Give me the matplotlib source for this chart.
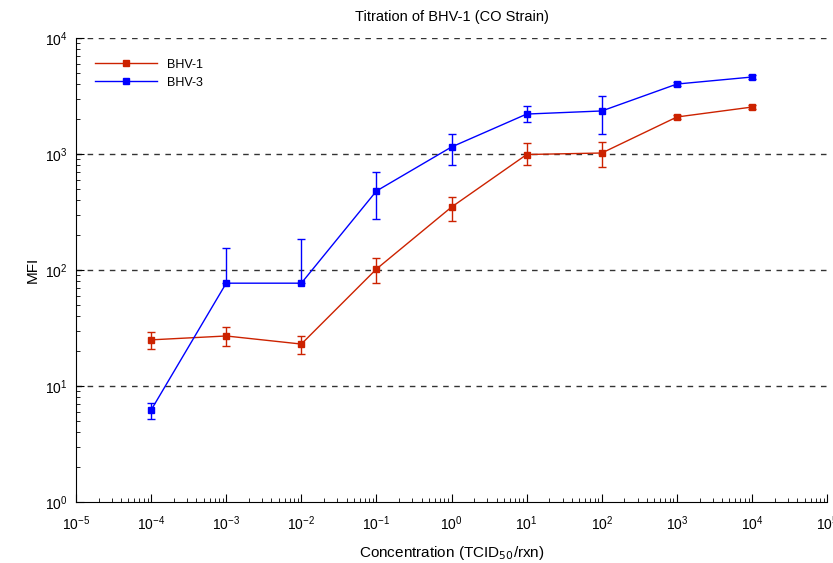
import numpy as np
import matplotlib.pyplot as plt
from matplotlib.ticker import LogLocator, NullFormatter

plt.rcParams['font.family'] = ['Liberation Sans', 'DejaVu Sans']

# Data
conc = [1e-4, 1e-3, 1e-2, 1e-1, 1e0, 1e1, 1e2, 1e3, 1e4]

bhv1 = [25, 27, 23, 102, 349, 990, 1020, 2085, 2540]
bhv1_lo = [21, 22, 19, 77, 265, 800, 780, 2000, 2450]
bhv1_hi = [29, 32, 27, 127, 426, 1250, 1270, 2180, 2640]

bhv3 = [6.2, 77, 77, 480, 1150, 2210, 2350, 4010, 4610]
bhv3_lo = [5.2, 77, 77, 275, 800, 1900, 1500, 3850, 4450]
bhv3_hi = [7.1, 155, 185, 700, 1480, 2600, 3160, 4180, 4780]

red = '#CC2200'
blue = '#0000FF'

fig = plt.figure(figsize=(8.33, 5.63), dpi=100)
ax = fig.add_axes([0.0912, 0.1083, 0.9018, 0.8242])

err1 = [np.array(bhv1) - np.array(bhv1_lo), np.array(bhv1_hi) - np.array(bhv1)]
err3 = [np.array(bhv3) - np.array(bhv3_lo), np.array(bhv3_hi) - np.array(bhv3)]

ax.errorbar(conc, bhv1, yerr=err1, fmt='none', ecolor=red, capsize=3, elinewidth=1)
ax.errorbar(conc, bhv3, yerr=err3, fmt='none', ecolor=blue, capsize=3, elinewidth=1)
ax.plot(conc, bhv1, color=red, marker='s', ms=5, lw=1, label='BHV-1')
ax.plot(conc, bhv3, color=blue, marker='s', ms=5, lw=1, label='BHV-3')

ax.set_xscale('log')
ax.set_yscale('log')
ax.set_xlim(1e-5, 1e5)
ax.set_ylim(1, 1e4)

ax.xaxis.set_major_locator(LogLocator(base=10, numticks=20))
ax.xaxis.set_minor_locator(LogLocator(base=10, subs=np.arange(2, 10), numticks=20))
ax.xaxis.set_minor_formatter(NullFormatter())
ax.yaxis.set_major_locator(LogLocator(base=10, numticks=20))
ax.yaxis.set_minor_locator(LogLocator(base=10, subs=np.arange(2, 10), numticks=20))
ax.yaxis.set_minor_formatter(NullFormatter())

ax.tick_params(which='both', direction='in', labelsize=10)
ax.tick_params(which='major', length=6)
ax.tick_params(which='minor', length=3)
ax.tick_params(axis='x', which='major', pad=9)
ax.tick_params(axis='y', which='major', pad=6)

for v in [10, 100, 1000, 10000]:
    ax.axhline(v, color='#333333', ls=(0, (4, 4)), lw=1, zorder=0)

ax.spines['top'].set_visible(False)
ax.spines['right'].set_visible(False)

ax.set_title('Titration of BHV-1 (CO Strain)', fontsize=10.5, pad=12)
ax.set_xlabel('Concentration (TCID$_{50}$/rxn)', fontsize=11, labelpad=8)
ax.set_ylabel('MFI', fontsize=11)

ax.legend(loc='upper left', frameon=False, fontsize=9, handlelength=5,
          bbox_to_anchor=(0.01, 0.98))

fig.savefig('out.png', dpi=100, facecolor='white')
